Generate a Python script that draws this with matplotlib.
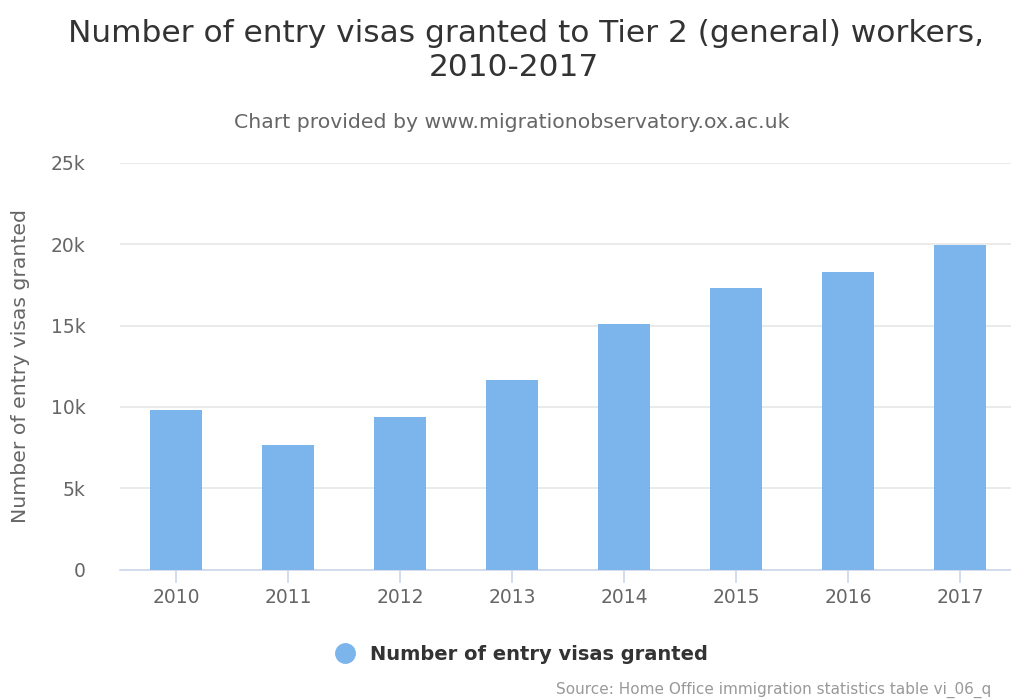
import matplotlib
matplotlib.use("Agg")
import matplotlib.pyplot as plt
from matplotlib.lines import Line2D

years = ["2010", "2011", "2012", "2013", "2014", "2015", "2016", "2017"]
visas = [9810, 7640, 9380, 11660, 15120, 17320, 18310, 19930]
yticks = [0, 5000, 10000, 15000, 20000, 25000]
ytick_labels = ["0", "5k", "10k", "15k", "20k", "25k"]

plt.rcParams['font.family'] = ['DejaVu Sans']
W, H = 1012, 700
fig = plt.figure(figsize=(W / 100, H / 100), dpi=100)

# axes: left=120px, right=1016px, top=163px (25k), bottom=569px (0)
left, right, top, bottom = 120, 1016, 163, 569.5
ax = fig.add_axes([left / W, 1 - bottom / H, (right - left) / W, (bottom - top) / H])

x = list(range(len(years)))
ax.bar(x, visas, width=0.47, color="#7cb5ec", zorder=3)
ax.set_xlim(-0.5, 7.5)
ax.set_ylim(0, 25000)
ax.set_yticks(yticks)
ax.set_yticklabels(ytick_labels)
ax.set_xticks(x)
ax.set_xticklabels(years)
ax.grid(axis="y", color="#e6e6e6", linewidth=1.2, zorder=0)
for s in ["top", "right", "left"]:
    ax.spines[s].set_visible(False)
ax.spines["bottom"].set_color("#ccd6eb")
ax.spines["bottom"].set_linewidth(1.2)
ax.tick_params(axis="y", length=0, pad=25, labelsize=13.5, labelcolor="#666666")
ax.tick_params(axis="x", length=9, width=1.2, color="#ccd6eb", pad=4,
               labelsize=13.5, labelcolor="#666666")
ax.set_ylabel("Number of entry visas granted", fontsize=14.7, color="#666666")
ax.yaxis.set_label_coords(-0.100, 0.5)

fig.text(526 / W, 1 - 33 / H, "Number of entry visas granted to Tier 2 (general) workers,",
         ha="center", va="center", fontsize=22.5, color="#333333")
fig.text(514 / W, 1 - 68 / H, "2010-2017",
         ha="center", va="center", fontsize=22.5, color="#333333")
fig.text(512 / W, 1 - 122 / H, "Chart provided by www.migrationobservatory.ox.ac.uk",
         ha="center", va="center", fontsize=14.7, color="#666666")

# legend
fig.lines.append(Line2D([345 / W], [1 - 653 / H], marker="o", markersize=14,
                        color="#7cb5ec", transform=fig.transFigure))
fig.text(370 / W, 1 - 654 / H, "Number of entry visas granted", ha="left", va="center",
         fontsize=14, fontweight="bold", color="#333333")

fig.text(556 / W, 1 - 690 / H, "Source: Home Office immigration statistics table vi_06_q",
         ha="left", va="center", fontsize=11, color="#999999")

fig.savefig("out.png", dpi=100, facecolor="white")
